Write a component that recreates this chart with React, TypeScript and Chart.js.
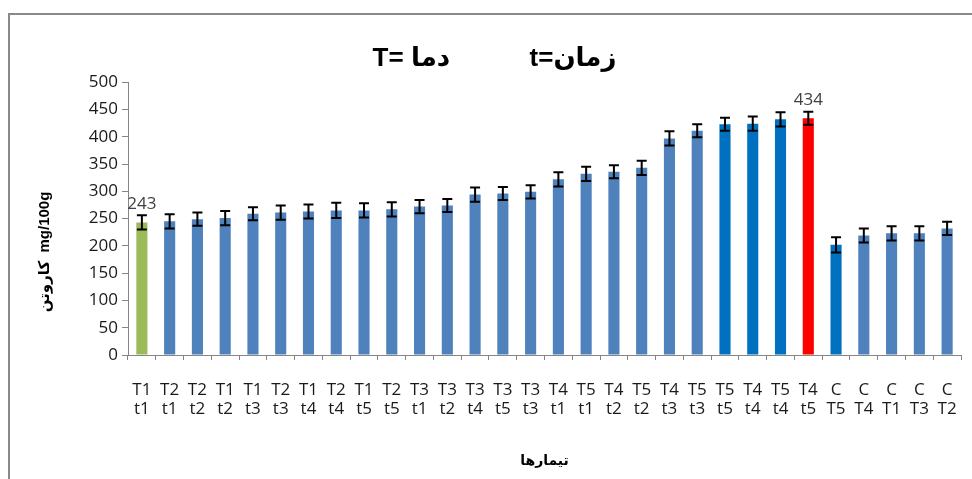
import React, { useEffect, useRef } from "react";
import { Chart, registerables } from "chart.js";

Chart.register(...registerables);

// ---- data ----
const treatments = ["T1", "T2", "T2", "T1", "T1", "T2", "T1", "T2", "T1", "T2", "T3", "T3", "T3", "T3", "T3", "T4", "T5", "T4", "T5", "T4", "T5", "T5", "T4", "T5", "T4", "C", "C", "C", "C", "C"];
const times = ["t1", "t1", "t2", "t2", "t3", "t3", "t4", "t4", "t5", "t5", "t1", "t2", "t4", "t5", "t3", "t1", "t1", "t2", "t2", "t3", "t3", "t5", "t4", "t4", "t5", "T5", "T4", "T1", "T3", "T2"];
const carotene = [243, 245, 249, 251, 259, 261, 263, 265, 265, 267, 272, 274, 294, 296, 299, 322, 332, 336, 343, 397, 411, 423, 424, 432, 434, 202, 219, 223, 223, 232];
const errorValues = [13, 13, 12, 13, 12, 13, 13, 14, 13, 13, 12, 12, 13, 12, 12, 13, 13, 12, 13, 13, 12, 12, 13, 13, 12, 14, 13, 13, 13, 12];
const yTicks = [0, 50, 100, 150, 200, 250, 300, 350, 400, 450, 500];
const labelledBars = [0, 24];
const greenBars = [0];
const darkBlueBars = [21, 22, 23, 25];
const redBars = [24];

const chartTitle = "T= دما           t=زمان";
const yTitle = "کاروتن  mg/100g" + "\u00a0".repeat(16);
const xTitle = "تیمارها";

const TEXT_FONT = "'Open Sans', 'Noto Sans', sans-serif";
const BOLD_FONT = "'Liberation Sans', Arial, 'DejaVu Sans', sans-serif";

const barColor = (i: number) => {
  if (greenBars.includes(i)) return "#9BBB59";
  if (redBars.includes(i)) return "#FF0000";
  if (darkBlueBars.includes(i)) return "#0070C0";
  return "#4F81BD";
};

const errorBarPlugin = {
  id: "errorBars",
  afterDatasetsDraw(chart: any) {
    const { ctx, scales } = chart;
    const xs = scales.x;
    const ys = scales.y;
    ctx.save();
    ctx.strokeStyle = "#000000";
    ctx.lineWidth = 2;
    carotene.forEach((v, i) => {
      const x = xs.getPixelForValue(i);
      const top = ys.getPixelForValue(v + errorValues[i]);
      const bot = ys.getPixelForValue(v - errorValues[i]);
      ctx.beginPath();
      ctx.moveTo(x, top);
      ctx.lineTo(x, bot);
      ctx.moveTo(x - 5, top);
      ctx.lineTo(x + 5, top);
      ctx.moveTo(x - 5, bot);
      ctx.lineTo(x + 5, bot);
      ctx.stroke();
    });
    ctx.fillStyle = "#404040";
    ctx.font = `17px ${TEXT_FONT}`;
    ctx.textAlign = "center";
    ctx.textBaseline = "bottom";
    labelledBars.forEach((i) => {
      const x = xs.getPixelForValue(i);
      const top = ys.getPixelForValue(carotene[i] + errorValues[i]);
      ctx.fillText(String(carotene[i]), x, top - 3);
    });
    ctx.restore();
  },
};

export default function App() {
  const canvasRef = useRef<HTMLCanvasElement | null>(null);

  useEffect(() => {
    const canvas = canvasRef.current;
    if (!canvas) return;
    const labels = treatments.map((t, i) => [t, times[i]]);
    const chart = new Chart(canvas, {
      type: "bar",
      data: {
        labels,
        datasets: [
          {
            data: carotene,
            backgroundColor: carotene.map((_, i) => barColor(i)),
            borderWidth: 0,
            barPercentage: 0.4,
            categoryPercentage: 1,
          },
        ],
      },
      plugins: [errorBarPlugin],
      options: {
        responsive: false,
        animation: false,
        devicePixelRatio: 1,
        layout: { padding: { top: 20, left: 28, right: 11, bottom: 8 } },
        plugins: {
          legend: { display: false },
          tooltip: { enabled: false },
          title: {
            display: true,
            text: chartTitle,
            color: "#000000",
            font: { family: BOLD_FONT, size: 26, weight: "bold", lineHeight: 1.2 },
            padding: { top: 23, bottom: 8 },
          },
        },
        scales: {
          x: {
            grid: {
              display: true,
              drawOnChartArea: false,
              drawTicks: true,
              tickLength: 5,
              color: "#868686",
              offset: true,
            },
            border: { display: true, color: "#868686", width: 1 },
            ticks: {
              color: "#1a1a1a",
              font: { family: TEXT_FONT, size: 17, lineHeight: 1.15 },
              padding: 20,
              maxRotation: 0,
              minRotation: 0,
              autoSkip: false,
            },
            title: {
              display: true,
              text: xTitle,
              color: "#000000",
              font: { family: BOLD_FONT, size: 14, weight: "bold", lineHeight: 1.2 },
              padding: { top: 4, bottom: 1 },
            },
            afterFit(scale: any) {
              scale.height = 116;
              scale.paddingLeft = 0;
              scale.paddingRight = 0;
            },
          },
          y: {
            min: 0,
            max: 500,
            afterBuildTicks(scale: any) {
              scale.ticks = yTicks.map((v) => ({ value: v }));
            },
            grid: {
              display: true,
              drawOnChartArea: false,
              drawTicks: true,
              tickLength: 6,
              color: "#868686",
            },
            border: { display: true, color: "#868686", width: 1 },
            ticks: {
              color: "#1a1a1a",
              font: { family: TEXT_FONT, size: 17 },
              padding: 4,
            },
            title: {
              display: true,
              text: yTitle,
              color: "#000000",
              font: { family: BOLD_FONT, size: 15, weight: "bold", lineHeight: 1.2 },
              padding: { top: 8, bottom: 4 },
            },
            afterFit(scale: any) {
              scale.width = 100;
            },
          },
        },
      },
    } as any);
    return () => chart.destroy();
  }, []);

  return (
    <div
      style={{
        position: "fixed",
        left: 0,
        top: 0,
        width: 972,
        height: 479,
        background: "#ffffff",
        overflow: "hidden",
      }}
    >
      <div
        style={{
          position: "absolute",
          left: 8,
          top: 13,
          width: 990,
          height: 490,
          borderLeft: "2px solid #898989",
          borderTop: "2px solid #898989",
          pointerEvents: "none",
        }}
      />
      <canvas
        ref={canvasRef}
        width={972}
        height={479}
        style={{ position: "absolute", left: 0, top: 0, width: 972, height: 479 }}
      />
    </div>
  );
}
